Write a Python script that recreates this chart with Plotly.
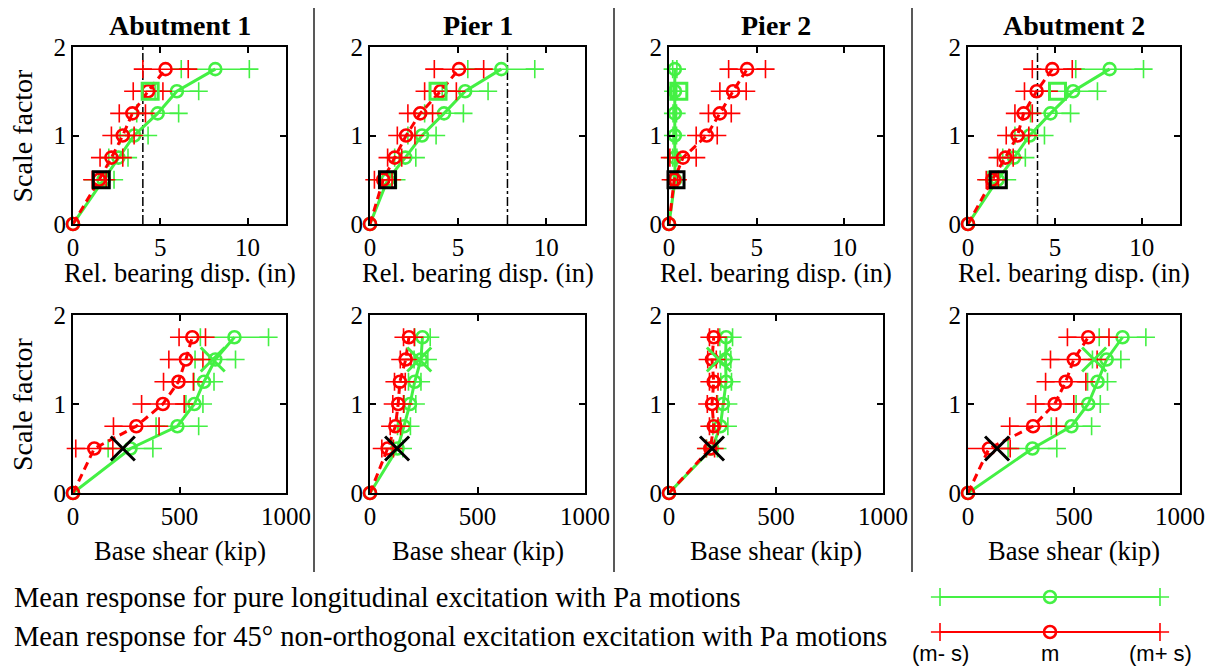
import plotly.graph_objects as go

# The page places the figure 8 px from the top-left corner of the window,
# so the figure is sized to fill the remaining 1212x658 area.
OFF = 8
W, H = 1220 - OFF, 666 - OFF

# ---------------- data ----------------
locations = ["Abutment 1", "Pier 1", "Pier 2", "Abutment 2"]
scale_factor = [0, 0.5, 0.75, 1.0, 1.25, 1.5, 1.75]

# Relative bearing displacement (in): mean and std, pure longitudinal (green)
disp_long_mean = [
    [0, 1.75, 2.6, 3.5, 4.85, 5.95, 8.15],
    [0, 1.0, 2.0, 2.95, 4.2, 5.4, 7.45],
    [0, 0.35, 0.33, 0.33, 0.33, 0.34, 0.33],
    [0, 1.7, 2.65, 3.55, 4.75, 6.05, 8.15],
]
disp_long_std = [
    [0, 0.6, 0.55, 0.8, 1.2, 1.25, 1.95],
    [0, 0.5, 0.6, 0.8, 1.1, 1.3, 1.9],
    [0, 0.1, 0.12, 0.1, 0.1, 0.1, 0.12],
    [0, 0.55, 0.65, 0.85, 1.15, 1.4, 1.95],
]
# 45 deg non-orthogonal (red)
disp_45_mean = [
    [0, 1.5, 2.2, 2.85, 3.4, 4.3, 5.3],
    [0, 0.75, 1.4, 2.05, 2.85, 4.0, 5.05],
    [0, 0.3, 0.8, 2.15, 2.9, 3.65, 4.45],
    [0, 1.4, 2.15, 2.85, 3.2, 3.95, 4.85],
]
disp_45_std = [
    [0, 0.4, 0.65, 0.65, 0.75, 0.85, 1.3],
    [0, 0.5, 0.4, 0.5, 0.7, 0.9, 1.4],
    [0, 0.2, 0.75, 0.6, 0.65, 0.75, 1.05],
    [0, 0.35, 0.45, 0.65, 0.5, 0.7, 1.15],
]
# Base shear (kip)
shear_long_mean = [
    [0, 270, 490, 570, 615, 668, 758],
    [0, 128, 158, 186, 208, 237, 244],
    [0, 201, 240, 252, 267, 264, 267],
    [0, 304, 488, 567, 611, 654, 729],
]
shear_long_std = [
    [0, 105, 100, 40, 47, 95, 160],
    [0, 25, 30, 27, 29, 32, 36],
    [0, 25, 35, 25, 25, 25, 30],
    [0, 115, 95, 57, 47, 67, 110],
]
shear_45_mean = [
    [0, 100, 297, 422, 495, 530, 560],
    [0, 82, 118, 131, 139, 166, 181],
    [0, 193, 209, 201, 209, 201, 209],
    [0, 99, 307, 409, 461, 499, 567],
]
shear_45_std = [
    [0, 87, 107, 100, 70, 80, 62],
    [0, 27, 24, 25, 25, 25, 25],
    [0, 20, 20, 22, 20, 20, 20],
    [0, 100, 110, 90, 95, 110, 98],
]
# Special markers
disp_cap = [4.0, 7.8, None, 4.0]          # dash-dot capacity line
square_black_disp = [1.62, 0.99, 0.4, 1.74]  # at scale 0.5
square_green_disp = [4.42, 3.86, 0.56, 5.15]  # at scale 1.5
x_black_shear = [234, 126, 201, 137]         # at scale 0.5
x_green_shear = [656, 229, 233, 595]         # at scale 1.5
square_black_sf = 0.5
square_green_sf = 1.5

legend_texts = [
    "Mean response for pure longitudinal excitation with Pa motions",
    "Mean response for 45\u00b0 non-orthogonal excitation excitation with Pa motions",
]
legend_marks = ["(m- s)", "m", "(m+ s)"]
legend_x = [-1, 0, 1]

# ---------------- style ----------------
GREEN = "#44f044"
RED = "#ff0000"
SERIF = "Liberation Serif, Times New Roman, serif"
SANS = "Liberation Sans, Arial, sans-serif"

# positions in window pixels
col_px = [(73, 286), (370, 585), (669, 883), (968, 1180)]
top_px = (47, 224)
bot_px = (315, 493)


def px(x):
    return (x - OFF) / W


def py(y):
    return 1 - (y - OFF) / H


def xd(a, b):
    return [px(a), px(b)]


def yd(t, b):
    return [py(b), py(t)]


fig = go.Figure()


def mk(symbol, size, color, width):
    return dict(symbol=symbol, size=size, color=color, line=dict(color=color, width=width))


def add_series(axn, mean, std, color, dash):
    xa = "x" if axn == 1 else f"x{axn}"
    ya = "y" if axn == 1 else f"y{axn}"
    bx, by, cx, cy = [], [], [], []
    for m, s, sf in zip(mean, std, scale_factor):
        if s <= 0:
            continue
        bx += [m - s, m + s, None]
        by += [sf, sf, None]
        cx += [m - s, m + s]
        cy += [sf, sf]
    fig.add_trace(go.Scatter(x=bx, y=by, mode="lines", xaxis=xa, yaxis=ya,
                             line=dict(color=color, width=1.5),
                             showlegend=False, cliponaxis=False, hoverinfo="skip"))
    fig.add_trace(go.Scatter(x=cx, y=cy, mode="markers", xaxis=xa, yaxis=ya,
                             marker=mk("cross-thin-open", 13, color, 1.6),
                             showlegend=False, cliponaxis=False, hoverinfo="skip"))
    fig.add_trace(go.Scatter(x=mean, y=scale_factor, mode="lines+markers",
                             xaxis=xa, yaxis=ya,
                             line=dict(color=color, width=3, dash=dash),
                             marker=mk("circle-open", 12, color, 2.6),
                             showlegend=False, cliponaxis=False))


axis_common = dict(showline=True, linewidth=2, linecolor="black", mirror="ticks",
                   ticks="inside", ticklen=6, tickwidth=2, tickcolor="black",
                   showgrid=False, zeroline=False, automargin=False,
                   tickfont=dict(family=SERIF, size=25, color="black"))

layout = {}
for i in range(4):
    for row, axn in (("top", i + 1), ("bot", i + 5)):
        xa_key = "xaxis" if axn == 1 else f"xaxis{axn}"
        ya_key = "yaxis" if axn == 1 else f"yaxis{axn}"
        xa = "x" if axn == 1 else f"x{axn}"
        ya = "y" if axn == 1 else f"y{axn}"
        ypx = top_px if row == "top" else bot_px
        if row == "top":
            xcfg = dict(range=[0, 12.2], tickvals=[0, 5, 10])
        else:
            xcfg = dict(range=[0, 1000], tickvals=[0, 500, 1000])
        layout[xa_key] = dict(domain=xd(*col_px[i]), anchor=ya, **xcfg, **axis_common)
        layout[ya_key] = dict(domain=yd(*ypx), anchor=xa, range=[0, 2],
                              tickvals=[0, 1, 2], **axis_common)

    # top panel traces
    axn = i + 1
    xa = "x" if axn == 1 else f"x{axn}"
    ya = "y" if axn == 1 else f"y{axn}"
    if disp_cap[i] is not None:
        fig.add_trace(go.Scatter(x=[disp_cap[i], disp_cap[i]], y=[0, 2], mode="lines",
                                 xaxis=xa, yaxis=ya,
                                 line=dict(color="black", width=1.5, dash="dashdot"),
                                 showlegend=False, hoverinfo="skip"))
    add_series(axn, disp_long_mean[i], disp_long_std[i], GREEN, "solid")
    add_series(axn, disp_45_mean[i], disp_45_std[i], RED, "8px,5px")
    fig.add_trace(go.Scatter(x=[square_green_disp[i]], y=[square_green_sf], mode="markers",
                             xaxis=xa, yaxis=ya, marker=mk("square-open", 16, GREEN, 3),
                             showlegend=False, cliponaxis=False))
    fig.add_trace(go.Scatter(x=[square_black_disp[i]], y=[square_black_sf], mode="markers",
                             xaxis=xa, yaxis=ya, marker=mk("square-open", 16, "black", 3),
                             showlegend=False, cliponaxis=False))

    # bottom panel traces
    axn = i + 5
    xa = f"x{axn}"
    ya = f"y{axn}"
    add_series(axn, shear_long_mean[i], shear_long_std[i], GREEN, "solid")
    add_series(axn, shear_45_mean[i], shear_45_std[i], RED, "8px,5px")
    fig.add_trace(go.Scatter(x=[x_green_shear[i]], y=[square_green_sf], mode="markers",
                             xaxis=xa, yaxis=ya, marker=mk("x-thin-open", 24, GREEN, 3),
                             showlegend=False, cliponaxis=False))
    fig.add_trace(go.Scatter(x=[x_black_shear[i]], y=[square_black_sf], mode="markers",
                             xaxis=xa, yaxis=ya, marker=mk("x-thin-open", 24, "black", 3),
                             showlegend=False, cliponaxis=False))

# legend sample axes
lx0, lx1 = 930, 1170
ly_top, ly_bot = 590, 639
layout["xaxis9"] = dict(domain=xd(lx0, lx1), range=[-1 - 10 / 110, 1 + 10 / 110],
                        visible=False, anchor="y9", automargin=False)
layout["yaxis9"] = dict(domain=yd(ly_top, ly_bot), range=[-0.2, 1.2],
                        visible=False, anchor="x9", automargin=False)
for yy, color in ((1, GREEN), (0, RED)):
    fig.add_trace(go.Scatter(x=legend_x, y=[yy] * 3, mode="lines", xaxis="x9", yaxis="y9",
                             line=dict(color=color, width=2), showlegend=False,
                             cliponaxis=False, hoverinfo="skip"))
    fig.add_trace(go.Scatter(x=[legend_x[0], legend_x[2]], y=[yy] * 2, mode="markers",
                             xaxis="x9", yaxis="y9", marker=mk("cross-thin-open", 13, color, 1.6),
                             showlegend=False, cliponaxis=False, hoverinfo="skip"))
    fig.add_trace(go.Scatter(x=[legend_x[1]], y=[yy], mode="markers",
                             xaxis="x9", yaxis="y9", marker=mk("circle-open", 12, color, 2.6),
                             showlegend=False, cliponaxis=False, hoverinfo="skip"))

annotations = []
for i, name in enumerate(locations):
    cx = px((col_px[i][0] + col_px[i][1]) / 2)
    annotations.append(dict(text=f"<b>{name}</b>", x=cx, y=py(25), xref="paper",
                            yref="paper", showarrow=False, xanchor="center", yanchor="middle",
                            font=dict(family=SERIF, size=28, color="black")))
    annotations.append(dict(text="Rel. bearing disp. (in)", x=cx, y=py(273),
                            xref="paper", yref="paper", showarrow=False,
                            xanchor="center", yanchor="middle",
                            font=dict(family=SERIF, size=26.5, color="black")))
    annotations.append(dict(text="Base shear (kip)", x=cx, y=py(551),
                            xref="paper", yref="paper", showarrow=False,
                            xanchor="center", yanchor="middle",
                            font=dict(family=SERIF, size=26.5, color="black")))
for yc in ((top_px[0] + top_px[1]) / 2, (bot_px[0] + bot_px[1]) / 2):
    annotations.append(dict(text="Scale factor", x=px(22), y=py(yc), xref="paper",
                            yref="paper", showarrow=False, textangle=-90,
                            xanchor="center", yanchor="middle",
                            font=dict(family=SERIF, size=28, color="black")))
for txt, yc in zip(legend_texts, (597, 636)):
    annotations.append(dict(text=txt, x=px(12), y=py(yc), xref="paper", yref="paper",
                            showarrow=False, xanchor="left", yanchor="middle",
                            font=dict(family=SERIF, size=28.5, color="black")))
for txt, xv in zip(legend_marks, legend_x):
    annotations.append(dict(text=txt, x=xv, y=py(653), xref="x9", yref="paper",
                            showarrow=False, xanchor="center", yanchor="middle",
                            font=dict(family=SANS, size=22, color="black")))

shapes = []
for sx in (314, 614, 912):
    shapes.append(dict(type="line", xref="paper", yref="paper", x0=px(sx), x1=px(sx),
                       y0=py(6), y1=py(572), line=dict(color="#222", width=1.5)))

fig.update_layout(width=W, height=H, margin=dict(l=0, r=0, t=0, b=0),
                  paper_bgcolor="white", plot_bgcolor="white",
                  annotations=annotations, shapes=shapes, **layout)

fig.write_html("out.html")
